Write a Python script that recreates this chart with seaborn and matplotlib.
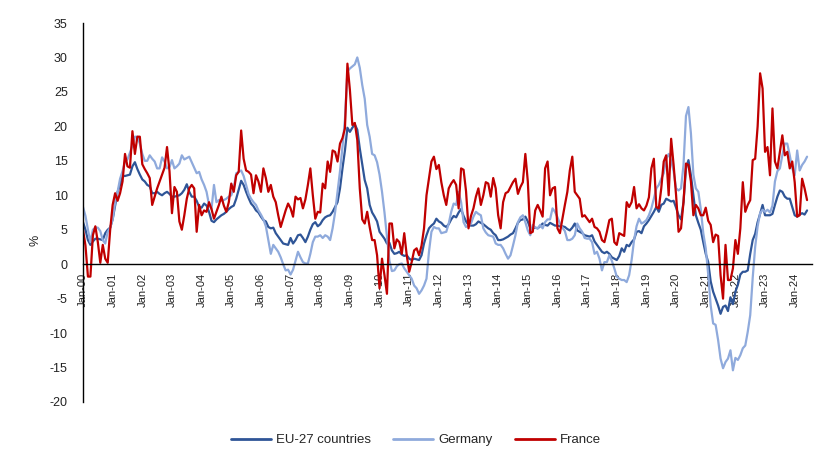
import numpy as np
import pandas as pd
import matplotlib
matplotlib.use("Agg")
import matplotlib.pyplot as plt
from matplotlib.lines import Line2D
import seaborn as sns

# ---- data (monthly, Jan-2000 .. Jun-2024) ----
tick_labels = [f"Jan-{y:02d}" for y in range(0, 25)]
series_names = ["EU-27 countries", "Germany", "France"]
colors = ["#2F5597", "#8FAADC", "#C00000"]

eu_27 = [
    6.1, 5, 3.5, 2.8, 3.3, 3.7, 3.7, 3.6, 3.5, 4.5, 5, 5.3,
    6.5, 8.5, 10.5, 11.5, 12.8, 12.8, 12.9, 13, 14.2, 14.8, 13.8, 13,
    12.3, 12, 11.5, 11.3, 10.3, 10.3, 10.5, 10.2, 10, 10.3, 10.5, 10.2,
    9.8, 9.8, 9.9, 10, 10.3, 10.8, 11.6, 10.5, 9.8, 9.8, 9.2, 8.3,
    8.2, 8.8, 8.5, 7.6, 6.3, 6.1, 6.5, 6.8, 7.1, 7.3, 7.6, 8,
    8.3, 8.5, 9.5, 10.8, 12.1, 11.5, 10.5, 9.6, 8.8, 8.4, 7.8, 7.5,
    6.9, 6.4, 6.2, 5.4, 5.2, 5.3, 4.5, 4, 3.5, 3, 2.9, 2.8,
    3.8, 3, 3.5, 4.2, 4.3, 3.8, 3.2, 4, 5, 5.8, 6.1, 5.5,
    5.8, 6.4, 6.8, 7, 7.1, 7.6, 8.3, 9, 11, 13.9, 16.5, 19.8,
    19.2, 19.8, 20.3, 19.5, 16.8, 14.5, 12.2, 11, 8.6, 7.5, 6.9, 6.2,
    4.7, 4.2, 3.7, 3, 3.1, 2, 1.5, 1.6, 1.8, 1.4, 1.2, 1.3,
    0.8, 0.6, 0.8, 0.7, 0.6, 1.3, 3, 4.2, 5.2, 5.6, 5.9, 6.6,
    6.2, 6, 5.6, 5.4, 5.8, 6.5, 7, 6.8, 7.5, 8, 7, 6.2,
    5.7, 5.6, 5.6, 5.8, 6.2, 6, 5.8, 5.5, 5.2, 5, 4.5, 4.2,
    3.5, 3.5, 3.6, 3.8, 4.0, 4.3, 4.5, 5.2, 6, 6.4, 6.5, 6.9,
    6.2, 5.2, 5.2, 5.3, 5.2, 5.5, 5.9, 5.7, 5.6, 6, 5.8, 5.6,
    5.6, 5.5, 5.5, 5.4, 5.1, 4.9, 5.3, 5.9, 4.9, 4.7, 4.5, 4.2,
    4.1, 4, 4.2, 3.3, 2.8, 2.3, 1.8, 1.6, 1.8, 1.5, 1.0, 0.8,
    0.6, 1.2, 2.3, 1.8, 2.8, 2.6, 3.2, 3.6, 4.7, 4.8, 4.5, 5.5,
    5.9, 6.4, 7, 7.6, 8.3, 7.6, 8.6, 8.8, 9.5, 9.3, 9.1, 9.2,
    8.2, 7.1, 6.5, 9, 13.9, 15.1, 12.9, 10, 7.1, 6, 5, 3.2,
    1.5, 0.3, -2.5, -4, -5, -6, -7.2, -6.2, -6, -6.8, -4.8, -5.8,
    -4, -3, -1.5, -1.1, -1.1, -0.9, 1.5, 3.5, 4.4, 6.1, 7.3, 8.6,
    7.1, 7.1, 7.1, 7.3, 8.6, 9.8, 10.7, 10.5, 9.8, 9.5, 9.5, 8.3,
    7.1, 6.9, 7.2, 7.4, 7.2, 7.8,
]

germany = [
    8.3, 7, 5, 3.2, 5, 5.3, 5.3, 4.8, 3.5, 3, 4.7, 5.3,
    6.5, 9, 10.5, 12.4, 13.5, 14.9, 15.2, 16.2, 17.2, 18.5, 18.5, 17.5,
    16, 15, 15, 15.8, 15.3, 14.9, 13.9, 13.9, 15.5, 14.9, 13.9, 14.1,
    15.1, 13.9, 14.2, 14.6, 15.8, 15.2, 15.4, 15.6, 14.8, 14, 13.2, 13.4,
    12.3, 11.5, 10.5, 8.6, 8, 11.5, 9, 9.3, 9.2, 9.3, 9.5, 9.8,
    10, 11, 13.2, 13.4, 13.6, 12.8, 11.5, 10.2, 9.5, 9, 8.6, 7.8,
    7.2, 6.5, 5.5, 3.5, 1.5, 2.8, 2.3, 1.8, 1, 0, -0.9, -0.8,
    -1.5, -0.8, 0.5, 1.8, 1, 0.3, 0.1, 0.1, 1.5, 3.2, 4, 4,
    4.2, 3.8, 4.2, 4, 3.5, 5.2, 7.5, 10.5, 13.5, 17, 21, 28,
    28.4, 28.7, 29, 30, 28.5, 26, 24, 20.2, 18.5, 16, 15.8, 14.8,
    13, 10.5, 7.5, 4, 0.5, -1, -0.9, -0.3, 0, 0.1, -0.6, -1.1,
    -1.6, -2.1, -3.1, -3.5, -4.3, -3.8, -3.1, -2.1, 1.8, 4.7, 5.4, 5.2,
    5.2, 4.5, 4.6, 4.7, 5.9, 7.6, 8.8, 8.6, 10.5, 9, 6.1, 5.4,
    5.6, 5.9, 6.9, 7.6, 7.3, 7.1, 5.2, 4.6, 4.2, 4.1, 4, 3,
    2.8, 2.8, 2.3, 1.5, 0.8, 1.3, 2.7, 4.2, 6.1, 6.8, 7.1, 6.1,
    4.9, 4.2, 5.7, 5.3, 5.2, 5.7, 5.2, 6.1, 6.5, 6.5, 8.1, 7.6,
    6.8, 5.9, 5.3, 4.8, 3.5, 3.5, 3.7, 4.2, 5.9, 5.2, 4.7, 3.8,
    3.7, 3.7, 3.2, 1.5, 1.8, 0.8, -0.9, 0.3, 0.3, 1.3, 0.5, -0.6,
    -1.8, -2.1, -2.3, -2.3, -2.6, -1.6, 0.6, 3.5, 5.5, 6.6, 5.9, 6.1,
    6.4, 7.1, 8.1, 9.5, 11, 11.5, 12.4, 13.2, 15.3, 16, 15, 13.5,
    11, 10.7, 11, 14.4, 21.5, 22.8, 19, 13, 11, 10.5, 8, 4.5,
    2.3, -1.5, -6, -8.6, -8.8, -11, -13.7, -15.1, -14.2, -13.7, -12.5, -15.4,
    -13.6, -13.9, -13.2, -12.2, -11.8, -9.8, -7.4, -2, 2.5, 5.5, 7.4, 7.9,
    7.6, 7.9, 7.5, 8.5, 12, 13.5, 13.9, 15.8, 17.5, 17.5, 15.8, 13.9,
    12.9, 16.5, 13.6, 14.4, 14.9, 15.6,
]

france = [
    5, 2.7, -1.8, -1.8, 4.2, 5.5, 3.2, 0.2, 2.8, 0.8, 0.2, 5,
    8.6, 10.3, 9.2, 10.3, 12, 16, 14.2, 14, 19.3, 16, 18.5, 18.5,
    14.5, 13.8, 13.2, 12.5, 8.6, 9.8, 11, 12, 13, 14, 17, 13.5,
    7.4, 11.2, 10.5, 6.2, 5.0, 7.1, 9.5, 11, 11.5, 11, 4.7, 8.6,
    7.1, 7.8, 7.6, 9, 8, 6.6, 7.6, 8.6, 9.8, 8.5, 7.6, 9,
    11.7, 10.5, 12.9, 13.4, 19.4, 15.3, 13.6, 13.4, 13, 10.3, 12.9, 12,
    10.5, 13.9, 12.5, 10.5, 11.5, 9.8, 9, 7.1, 5.4, 6.6, 7.8, 8.8,
    8.1, 6.9, 9.8, 9.4, 9.6, 8.1, 9.4, 11.5, 13.9, 10, 6.6, 7.6,
    7.5, 11.7, 11, 14.9, 13.4, 16.5, 16.3, 14.9, 17.5, 18.3, 19.7, 29.1,
    25.3, 20.2, 20.5, 18, 11, 6.5, 5.9, 7.6, 5.4, 3.5, 3.5, 1.3,
    -3.5, 0.8, -1.6, -4.3, 5.9, 5.9, 2.3, 3.6, 3.2, 1.5, 4.5, 1.3,
    -1.1, 0.3, 2, 2.3, 1.3, 2.7, 5.2, 10, 12.4, 14.9, 15.6, 13.8,
    14.4, 11.9, 10, 8.6, 11, 11.7, 12.2, 11.5, 8.1, 13.9, 13.7, 10.6,
    5.2, 7, 8.1, 9.8, 11, 8.6, 10, 11.9, 11.7, 9.8, 12.5, 11,
    7.1, 5.2, 9, 10.3, 10.5, 11.2, 11.9, 12.4, 10.2, 11.2, 11.9, 16,
    12, 4.5, 4.7, 7.8, 8.6, 7.8, 6.9, 13.9, 14.9, 10, 11, 11.2,
    5.2, 4.5, 6.6, 8.6, 10.5, 13.6, 15.6, 10.5, 10, 9.5, 6.9, 7.1,
    6.6, 6.1, 6.6, 5.4, 5.2, 4.7, 3.5, 3.2, 4.7, 6.4, 6.6, 3.2,
    2.8, 4.5, 4.3, 4.1, 9, 8.3, 9, 11.2, 8.1, 8.7, 8.1, 7.8,
    8.5, 9.7, 13.9, 15.3, 8.3, 8.1, 11, 14.9, 15.8, 10, 18.2, 14.4,
    10, 4.7, 5.2, 9, 14.6, 14.4, 12, 7.1, 8.6, 8.1, 7.1, 7.1,
    8.2, 6.3, 5.7, 3.2, 4.3, 4.1, -1.6, -5, 2.8, -2.3, -2.3, -0.6,
    3.5, 1.5, 5.2, 11.9, 7.6, 8.6, 9.3, 15.1, 15.3, 20, 27.7, 25.5,
    16.3, 17, 12.9, 22.6, 14.9, 13.9, 16.3, 18.7, 15.8, 16.3, 13.9, 14.9,
    11.9, 6.9, 7.1, 12.4, 11, 9.3,
]

# ---- long-format table ----
n = len(eu_27)
month = np.arange(n)
df = pd.DataFrame({
    "month": np.concatenate([month, month, month]),
    "value": eu_27 + germany + france,
    "series": np.repeat(series_names, n),
})

sns.set_theme(style="white")
plt.rcParams["font.family"] = ["Liberation Sans", "DejaVu Sans"]
plt.rcParams["axes.unicode_minus"] = False

fig = plt.figure(figsize=(8.32, 4.68), dpi=100)
ax = fig.add_axes([83 / 832, 66 / 468, 729 / 832, 379 / 468])

sns.lineplot(data=df, x="month", y="value", hue="series", hue_order=series_names,
             palette=colors, linewidth=1.6, estimator=None, legend=False, ax=ax)

ax.set_xlim(0, 295)
ax.set_ylim(-20, 35)
ax.set_yticks(range(-20, 36, 5))
ax.set_xticks(np.arange(0, n, 12))
ax.set_xticklabels(tick_labels)
ax.set_xlabel("")
ax.set_ylabel("%", fontsize=9, color="#222222", labelpad=0)
ax.yaxis.set_label_coords((42 - 83) / 729, (402 - 240) / 379)

for s in ["top", "right"]:
    ax.spines[s].set_visible(False)
ax.spines["bottom"].set_position(("data", 0))
for s in ["left", "bottom"]:
    ax.spines[s].set_color("#000000")
    ax.spines[s].set_linewidth(1.0)
ax.tick_params(axis="y", which="major", direction="out", length=4, width=1,
               color="#000000", labelsize=9, labelcolor="#222222", pad=7)
ax.tick_params(axis="x", which="major", direction="out", length=4, width=1,
               color="#000000", labelsize=8, labelcolor="#222222", pad=2,
               labelrotation=90)
ax.grid(False)

handles = [Line2D([0], [0], color=c, lw=2) for c in colors]
fig.legend(handles, series_names, loc="center", bbox_to_anchor=(0.5, 28 / 468),
           ncol=3, frameon=False, fontsize=9.5, handlelength=3.0,
           columnspacing=1.7, handletextpad=0.4)

fig.savefig("out.png", dpi=100)
